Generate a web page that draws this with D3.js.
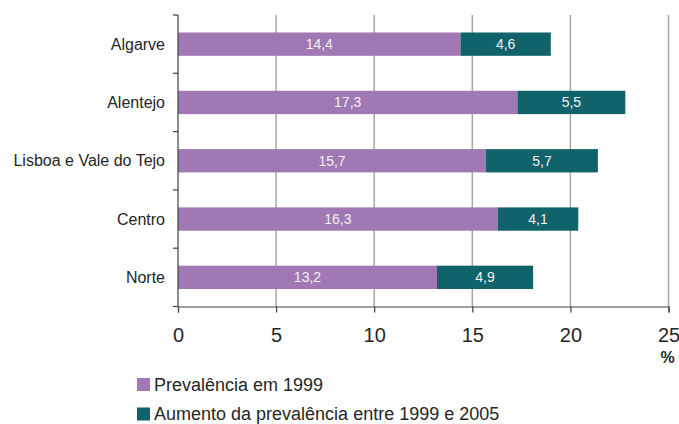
<!DOCTYPE html>
<html>
<head>
<meta charset="utf-8">
<script src="https://cdn.jsdelivr.net/npm/d3@7"></script>
<style>
  body { margin: 0; background: #fff; }
  svg text { font-family: "Liberation Sans", Arial, sans-serif; }
</style>
</head>
<body>
<div id="chart"></div>
<script>
// data
var regions = ["Algarve", "Alentejo", "Lisboa e Vale do Tejo", "Centro", "Norte"];
var prev1999 = [14.4, 17.3, 15.7, 16.3, 13.2];
var aumento = [4.6, 5.5, 5.7, 4.1, 4.9];
var xTicks = [0, 5, 10, 15, 20, 25];
var seriesNames = ["Prevalência em 1999", "Aumento da prevalência entre 1999 e 2005"];
var colors = ["#a078b4", "#10636a"];

var svgWidth = 679, svgHeight = 424;
var margin = { top: 15, left: 178, right: 10, bottom: 117 };
var chartWidth = 668.5 - margin.left;
var chartHeight = 306.5 - margin.top;

var svg = d3.select("#chart").append("svg")
    .attr("width", svgWidth)
    .attr("height", svgHeight);

var chartGroup = svg.append("g")
    .attr("transform", `translate(${margin.left}, ${margin.top})`);

var xScale = d3.scaleLinear().domain([0, 25]).range([0, chartWidth]);
var yScale = d3.scaleBand().domain(regions).range([0, chartHeight]).paddingInner(0.6).paddingOuter(0.3);

// gridlines
chartGroup.selectAll(".grid")
    .data(xTicks.slice(1))
    .enter()
    .append("line")
    .attr("x1", d => xScale(d))
    .attr("x2", d => xScale(d))
    .attr("y1", 0)
    .attr("y2", chartHeight)
    .attr("stroke", "#a6a6a6")
    .attr("stroke-width", 1.5);

// stacked bars
var stackData = regions.map((r, i) => ({ region: r, a: prev1999[i], b: aumento[i] }));

chartGroup.selectAll(".barA")
    .data(stackData)
    .enter()
    .append("rect")
    .attr("x", 0)
    .attr("y", d => yScale(d.region))
    .attr("width", d => xScale(d.a))
    .attr("height", yScale.bandwidth())
    .attr("fill", colors[0]);

chartGroup.selectAll(".barB")
    .data(stackData)
    .enter()
    .append("rect")
    .attr("x", d => xScale(d.a))
    .attr("y", d => yScale(d.region))
    .attr("width", d => xScale(d.a + d.b) - xScale(d.a))
    .attr("height", yScale.bandwidth())
    .attr("fill", colors[1]);

var fmt = v => String(v).replace(".", ",");

chartGroup.selectAll(".labA")
    .data(stackData)
    .enter()
    .append("text")
    .attr("x", d => xScale(d.a / 2))
    .attr("y", d => yScale(d.region) + yScale.bandwidth() / 2)
    .attr("dy", "0.35em")
    .attr("text-anchor", "middle")
    .attr("fill", "#f2f2f2")
    .style("font-size", "14px")
    .text(d => fmt(d.a));

chartGroup.selectAll(".labB")
    .data(stackData)
    .enter()
    .append("text")
    .attr("x", d => xScale(d.a + d.b / 2))
    .attr("y", d => yScale(d.region) + yScale.bandwidth() / 2)
    .attr("dy", "0.35em")
    .attr("text-anchor", "middle")
    .attr("fill", "#f2f2f2")
    .style("font-size", "14px")
    .text(d => fmt(d.b));

// y axis: line with ticks between categories
var yAxisG = chartGroup.append("g");
yAxisG.append("line")
    .attr("x1", 0).attr("x2", 0)
    .attr("y1", 0).attr("y2", chartHeight)
    .attr("stroke", "#404040").attr("stroke-width", 1.2);
var yBounds = d3.range(regions.length + 1).map(i => i * chartHeight / regions.length);
yAxisG.selectAll(".ytick")
    .data(yBounds)
    .enter()
    .append("line")
    .attr("x1", -5).attr("x2", 0)
    .attr("y1", d => d).attr("y2", d => d)
    .attr("stroke", "#404040").attr("stroke-width", 1.2);
yAxisG.selectAll(".ylab")
    .data(regions)
    .enter()
    .append("text")
    .attr("x", -13)
    .attr("y", d => yScale(d) + yScale.bandwidth() / 2)
    .attr("dy", "0.35em")
    .attr("text-anchor", "end")
    .attr("fill", "#262626")
    .style("font-size", "16px")
    .text(d => d);

// x axis
var bottomAxis = d3.axisBottom(xScale).tickValues(xTicks).tickSize(6).tickPadding(15);
var xAxisG = chartGroup.append("g")
    .attr("transform", `translate(0, ${chartHeight})`)
    .call(bottomAxis);
xAxisG.select(".domain").attr("stroke", "#404040").attr("stroke-width", 1.2);
xAxisG.selectAll(".tick line").attr("stroke", "#404040").attr("stroke-width", 1.2);
xAxisG.selectAll(".tick text")
    .attr("fill", "#262626")
    .style("font-size", "20px")
    .style("font-family", "'Liberation Sans', Arial, sans-serif");

chartGroup.append("text")
    .attr("x", xScale(25) - 1)
    .attr("y", 363 - margin.top)
    .attr("text-anchor", "middle")
    .attr("fill", "#262626")
    .style("font-size", "16px")
    .style("font-weight", "bold")
    .text("%");

// legend
var legend = svg.append("g").attr("transform", "translate(137, 378)");
var legItems = legend.selectAll("g")
    .data(seriesNames)
    .enter()
    .append("g")
    .attr("transform", (d, i) => `translate(0, ${i * 29.5})`);
legItems.append("rect")
    .attr("width", 13).attr("height", 13)
    .attr("fill", (d, i) => colors[i]);
legItems.append("text")
    .attr("x", 17)
    .attr("y", 12.5)
    .attr("fill", "#262626")
    .style("font-size", "18px")
    .text(d => d);
</script>
</body>
</html>
